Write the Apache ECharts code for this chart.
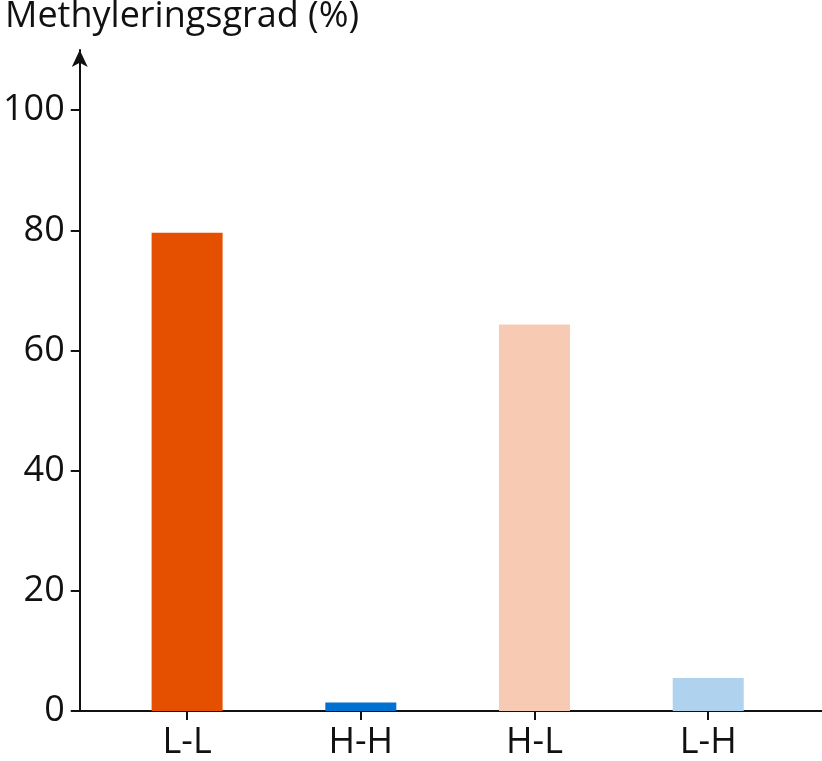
<!DOCTYPE html>
<html>
<head>
<meta charset="utf-8">
<script src="https://cdn.jsdelivr.net/npm/echarts@6/dist/echarts.min.js"></script>
<style>
  html, body { margin: 0; padding: 0; background: #fff; }
  #chart { width: 822px; height: 761px; }
</style>
</head>
<body>
<div id="chart"></div>
<script>
// data
const categories = ['L-L', 'H-H', 'H-L', 'L-H'];
const values = [79.6, 1.4, 64.3, 5.5];
const yTicks = [0, 20, 40, 60, 80, 100];
const barColors = ['#e54f00', '#0071ce', '#f7cab4', '#afd2ef'];

const FONT = '"Open Sans", "Noto Sans", sans-serif';
const INK = '#111';

const chart = echarts.init(document.getElementById('chart'));

// categories sit at x = 1..n on a value axis so the axis line can run past them
const positions = categories.map((c, i) => i + 1);

chart.setOption({
  animation: false,
  title: {
    text: 'Methyleringsgrad (%)',
    left: 0,
    top: -6,
    textStyle: { fontFamily: FONT, fontSize: 36, fontWeight: 'normal', color: INK }
  },
  grid: { left: 78, right: 0, top: 50, bottom: 42, containLabel: false },
  xAxis: {
    type: 'value',
    min: 0.382,
    max: 4.655,
    splitLine: { show: false },
    axisLine: { show: true, lineStyle: { color: INK, width: 2 } },
    axisTick: { show: true, length: 9, lineStyle: { color: INK, width: 2 }, customValues: positions },
    axisLabel: {
      customValues: positions,
      margin: 14,
      fontFamily: FONT, fontSize: 36, color: INK,
      formatter: v => categories[Math.round(v) - 1] || ''
    }
  },
  yAxis: {
    type: 'value',
    min: 0,
    max: 110,
    splitLine: { show: false },
    axisLine: {
      show: true,
      symbol: ['none', 'arrow'],
      symbolSize: [12, 17],
      lineStyle: { color: INK, width: 2 }
    },
    axisTick: { show: true, length: 9, lineStyle: { color: INK, width: 2 }, customValues: yTicks },
    axisLabel: {
      customValues: yTicks,
      margin: 15,
      fontFamily: FONT, fontSize: 36, color: INK
    }
  },
  series: [{
    type: 'bar',
    barWidth: 71,
    data: values.map((v, i) => ({
      value: [positions[i], v],
      itemStyle: { color: barColors[i] }
    }))
  }]
});
</script>
</body>
</html>
